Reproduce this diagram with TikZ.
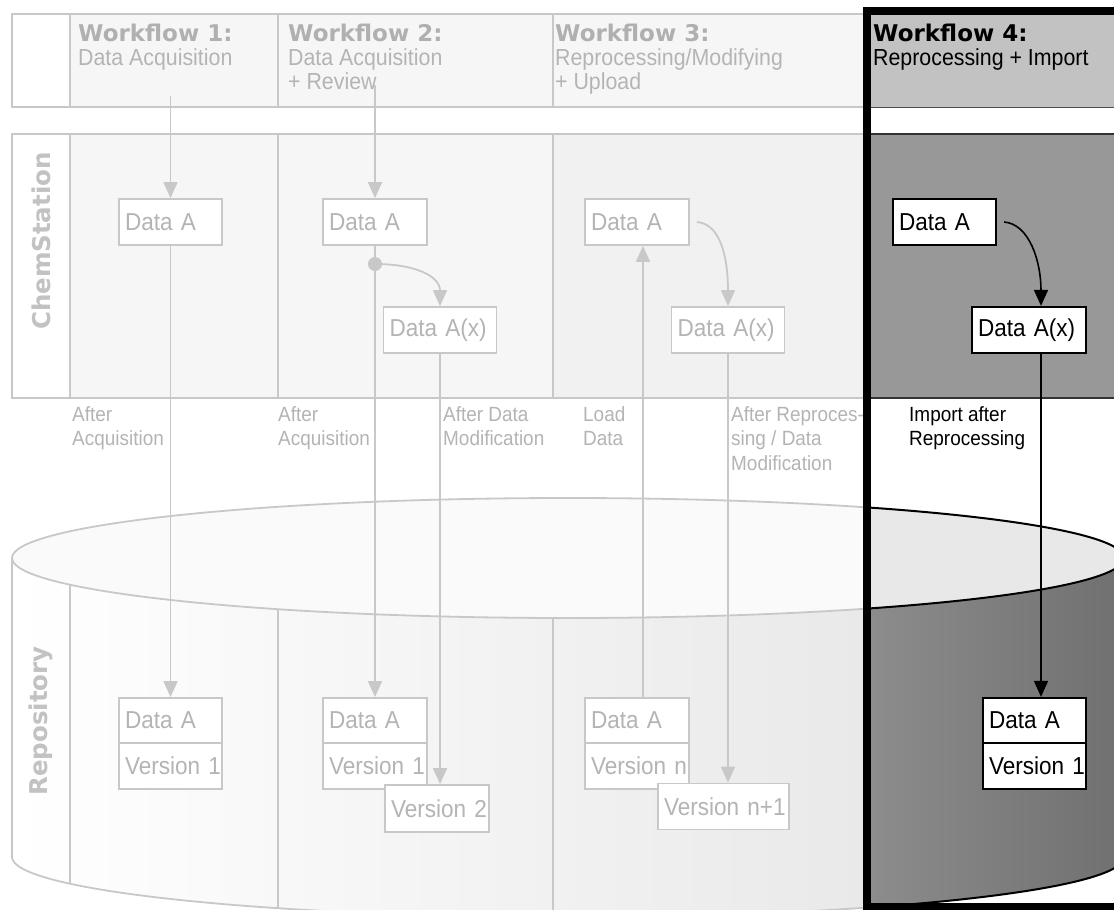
\documentclass[tikz,border=0pt]{standalone}
\usepackage{fontspec}
\setmainfont{Liberation Sans}[FakeStretch=0.92]
\newfontfamily\headfamily{DejaVu Sans}
\usetikzlibrary{arrows.meta}

\definecolor{fadeline}{HTML}{C8C8C8}
\definecolor{fadetext}{HTML}{B4B4B4}
\definecolor{fadehead}{HTML}{B0B0B0}
\definecolor{fadeside}{HTML}{C2C2C2}
\definecolor{fadebg}{HTML}{F6F6F6}
\definecolor{fadebgb}{HTML}{F1F1F1}
\definecolor{fadetop}{HTML}{FAFAFA}
\definecolor{fadebody}{HTML}{E9E9E9}
\definecolor{headgray}{HTML}{C2C2C2}
\definecolor{chemgray}{HTML}{989898}
\definecolor{topgray}{HTML}{E8E8E8}
\definecolor{bodyleft}{HTML}{8C8C8C}
\definecolor{bodyright}{HTML}{717171}

\newcommand\hdfont{\headfamily\bfseries\fontsize{23}{24}\selectfont}
\newcommand\subfont{\fontsize{23.2}{24}\selectfont}
\newcommand\boxfont{\fontsize{24.5}{26}\selectfont}
\newcommand\lblfont{\fontsize{20.6}{24.5}\selectfont}
\newcommand\sidefont{\headfamily\bfseries\fontsize{24.5}{26}\selectfont}

\tikzset{
  gridline/.style={draw=fadeline, line width=1.8pt},
  fadebox/.style={draw=fadeline, fill=white, text=fadetext, line width=1.8pt,
    minimum height=46pt, inner xsep=6pt, inner ysep=0pt, font=\boxfont,
    align=left, text width=#1},
  darkbox/.style={fadebox=#1, draw=black, text=black, line width=2.2pt},
  fadearrow/.style={draw=fadeline, line width=1.8pt,
    -{Triangle[length=16pt,width=14pt]}},
  darkarrow/.style={draw=black, line width=1.6pt,
    -{Triangle[length=16pt,width=14pt]}},
  headtext/.style={anchor=north west, inner sep=0pt, align=left,
    text=fadetext, font=\subfont},
  lbl/.style={anchor=north west, inner sep=0pt, align=left,
    text=fadetext, font=\lblfont},
  dot/.style={circle, fill=fadeline, inner sep=0pt, minimum size=14pt}
}

\begin{document}
\begin{tikzpicture}[x=1pt, y=-1pt]
  \useasboundingbox[fill=white] (0,0) rectangle (1114,910);

  % header row
  \fill[fadebg] (70,14) rectangle (866,107);
  \draw[gridline] (12,14) rectangle (866,107);
  \foreach \x in {70,278,553} \draw[gridline] (\x,14) -- (\x,107);

  % chemstation row
  \fill[fadebg] (70,134) rectangle (553,398);
  \fill[fadebgb] (553,134) rectangle (866,398);
  \draw[gridline] (12,134) rectangle (866,398);
  \foreach \x in {70,278,553} \draw[gridline] (\x,134) -- (\x,398);

  % workflow 4 bands
  \fill[headgray] (871,15) rectangle (1114,107);
  \draw[black!70, line width=1pt] (871,107) -- (1114,107);
  \fill[chemgray] (871,134) rectangle (1114,398);
  \draw[black!80, line width=1.2pt] (871,134) -- (1114,134) (871,398) -- (1114,398);

  % repository, faded part
  \begin{scope}
    \clip (0,0) rectangle (866,910);
    \begin{scope}
      \clip (12,558) -- (12,857) arc[start angle=180, end angle=0, x radius=556, y radius=60]
        -- (1124,558) arc[start angle=0, end angle=180, x radius=556, y radius=60] -- cycle;
      \shade[left color=white, right color=fadebody] (12,540) rectangle (866,920);
      \foreach \x in {70,278,553} \draw[gridline] (\x,540) -- (\x,920);
    \end{scope}
    \draw[gridline, fill=fadetop] (568,558) ellipse [x radius=556, y radius=60];
    \draw[gridline] (12,558) -- (12,857) arc[start angle=180, end angle=0, x radius=556, y radius=60];
  \end{scope}

  % repository, workflow 4 part
  \begin{scope}
    \clip (871,15) rectangle (1114,903);
    \begin{scope}
      \clip (12,558) -- (12,857) arc[start angle=180, end angle=0, x radius=556, y radius=60]
        -- (1124,558) arc[start angle=0, end angle=180, x radius=556, y radius=60] -- cycle;
      \shade[left color=bodyleft, right color=bodyright] (871,540) rectangle (1114,920);
    \end{scope}
    \draw[black, line width=2pt, fill=topgray] (568,558) ellipse [x radius=556, y radius=60];
    \draw[black, line width=2pt] (1124,558) -- (1124,857) arc[start angle=0, end angle=180, x radius=556, y radius=60];
  \end{scope}

  % side labels
  \node[rotate=90, text=fadeside, font=\sidefont] (chem) at (41,241) {ChemStation};
  \node[rotate=90, text=fadeside, font=\sidefont] (repo) at (41,721) {Repository};

  % headers
  \node[headtext] (h1) at (78,24) {{\hdfont\color{fadehead}Workflow 1:}\\Data Acquisition};
  \node[headtext] (h2) at (288,24) {{\hdfont\color{fadehead}Workflow 2:}\\Data Acquisition\\+ Review};
  \node[headtext] (h3) at (555,24) {{\hdfont\color{fadehead}Workflow 3:}\\Reprocessing/Modifying\\+ Upload};
  \node[headtext, text=black] (h4) at (873,24) {{\hdfont Workflow 4:}\\Reprocessing + Import};

  % labels between the rows
  \node[lbl] (l1) at (72,406) {After\\Acquisition};
  \node[lbl] (l2) at (278,406) {After\\Acquisition};
  \node[lbl] (l3) at (443,406) {After Data\\Modification};
  \node[lbl] (l4) at (583,406) {Load\\Data};
  \node[lbl] (l5) at (731,406) {After Reproces-\\sing / Data\\Modification};
  \node[lbl, text=black] (l6) at (909,406) {Import after\\Reprocessing};

  % connectors
  \coordinate (s1) at (170.5,96);
  \coordinate (s2) at (375,85);
  \node[dot] (d2) at (375,264) {};

  \node[fadebox=91pt] (cA1) at (170.5,222) {Data~A};
  \node[fadebox=92pt] (cA2) at (375,222) {Data~A};
  \node[fadebox=101pt] (cX2) at (440,330) {Data~A(x)};
  \node[fadebox=92pt] (cA3) at (637,222) {Data~A};
  \node[fadebox=101pt] (cX3) at (728,330) {Data~A(x)};
  \node[darkbox=91pt] (cA4) at (944.5,222) {Data~A};
  \node[darkbox=102pt] (cX4) at (1029,330) {Data~A(x)};

  \node[fadebox=91pt, minimum height=45pt] (rA1) at (170.5,720.5) {Data~A};
  \node[fadebox=91pt] (rV1) at (170.5,766) {Version~1};
  \node[fadebox=92pt, minimum height=45pt] (rA2) at (375,720.5) {Data~A};
  \node[fadebox=92pt] (rV2) at (375,766) {Version~1};
  \node[fadebox=92pt, minimum height=47pt] (rW2) at (437,808.5) {Version~2};
  \node[fadebox=92pt, minimum height=45pt] (rA3) at (637,720.5) {Data~A};
  \node[fadebox=92pt] (rV3) at (637,766) {Version~n};
  \node[fadebox=119pt] (rW3) at (723.5,806.5) {Version~n+1};
  \node[darkbox=91pt, minimum height=45pt] (rA4) at (1034.5,720.5) {Data~A};
  \node[darkbox=91pt] (rV4) at (1034.5,766) {Version~1};

  \draw[fadearrow] (s1) -- (cA1.north);
  \draw[fadearrow] (cA1.south) -- (rA1.north);
  \draw[fadearrow] (s2) -- (cA2.north);
  \draw[fadearrow] (cA2.south) -- (rA2.north);
  \draw[fadearrow] (d2.center) .. controls +(40,0) and +(0,-30) .. (cX2.north);
  \draw[fadearrow] (cX2.south) -- (cX2.south |- rW2.north);
  \draw[fadearrow] ([xshift=6pt]rA3.north) -- ([xshift=6pt]cA3.south);
  \draw[fadearrow] ([xshift=7pt]cA3.east) .. controls +(25,2) and +(0,-45) .. (cX3.north);
  \draw[fadearrow] (cX3.south) -- (cX3.south |- rW3.north);
  \draw[darkarrow] ([xshift=7pt]cA4.east) .. controls +(25,2) and +(0,-45) .. ([xshift=12pt]cX4.north);
  \draw[darkarrow] ([xshift=12pt]cX4.south) -- ([xshift=12pt]cX4.south |- rA4.north);

  % frame round workflow 4
  \draw[line width=8pt] (1120,11) -- (866.5,11) -- (866.5,906.5) -- (1120,906.5);
\end{tikzpicture}
\end{document}
